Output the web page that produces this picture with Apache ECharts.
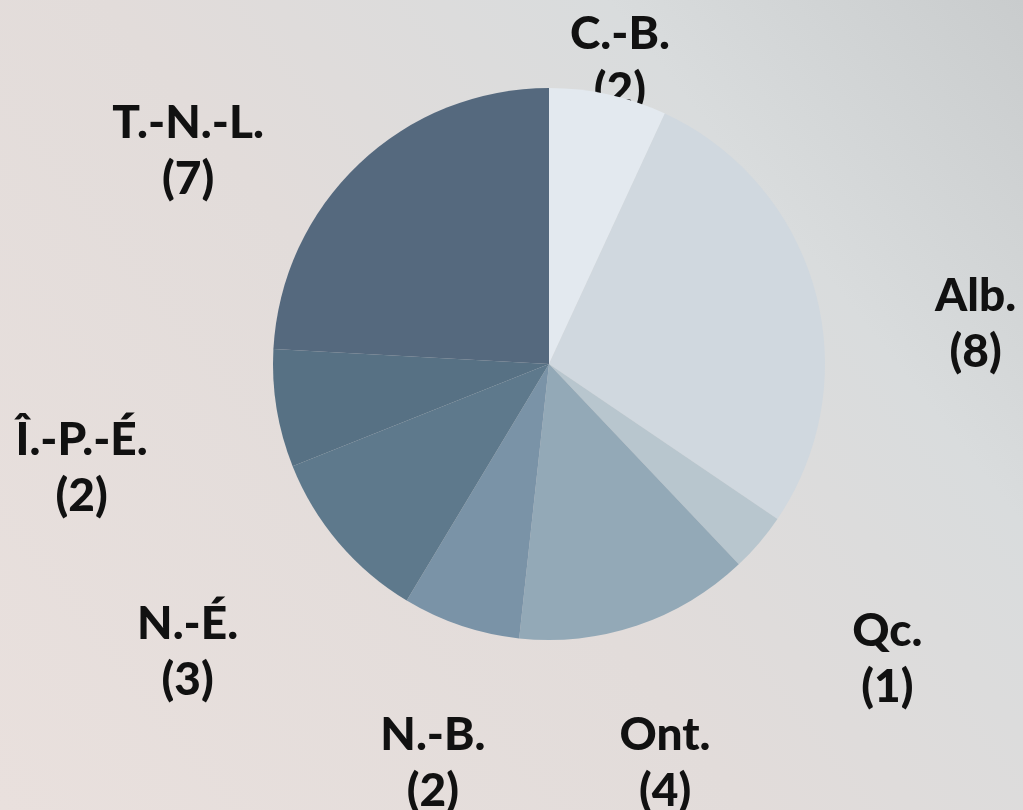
<!DOCTYPE html>
<html>
<head>
<meta charset="utf-8">
<script src="https://cdn.jsdelivr.net/npm/echarts@6/dist/echarts.min.js"></script>
<style>
html,body{margin:0;padding:0;width:1023px;height:810px;overflow:hidden;}
#chart{width:1023px;height:810px;}
</style>
</head>
<body>
<div id="chart"></div>
<script>
const categories = ['C.-B.', 'Alb.', 'Qc.', 'Ont.', 'N.-B.', 'N.-É.', 'Î.-P.-É.', 'T.-N.-L.'];
const values = [2, 8, 1, 4, 2, 3, 2, 7];
const colors = ['#e3e9ef', '#d0d8df', '#b8c6ce', '#93a9b7', '#7a93a7', '#5e798c', '#577184', '#55697e'];
const labelShift = [[-20,111],[19,73],[16,21],[-19,-2],[19,-2],[-39,14],[-50,36],[-70,94]];

const data = categories.map((c, i) => ({ name: c, value: values[i], itemStyle: { color: colors[i] } }));

const chart = echarts.init(document.getElementById('chart'), null, { renderer: 'canvas' });
chart.setOption({
  animation: false,
  backgroundColor: {
    type: 'linear', x: 0, y: 1, x2: 1, y2: 0,
    colorStops: [
      { offset: 0, color: '#e9e0dd' },
      { offset: 0.45, color: '#e2dcda' },
      { offset: 0.75, color: '#d9dcdd' },
      { offset: 1, color: '#c9cccd' }
    ]
  },
  series: [
    {
      type: 'pie',
      z: 1,
      center: [549, 364],
      radius: [380, 460],
      startAngle: 90,
      silent: true,
      avoidLabelOverlap: false,
      data: categories.map((c, i) => ({ name: c, value: values[i] })),
      itemStyle: { color: 'rgba(0,0,0,0)' },
      label: {
        show: true,
        position: 'inside',
        formatter: '{b}\n({c})',
        color: '#111111',
        fontFamily: 'Lato',
        fontWeight: 900,
        fontSize: 46,
        lineHeight: 56,
        align: 'center'
      },
      labelLine: { show: false },
      labelLayout: function (p) {
        const s = labelShift[p.dataIndex];
        return { dx: s[0], dy: s[1] };
      },
      emphasis: { disabled: true }
    },
    {
      type: 'pie',
      z: 5,
      center: [549, 364],
      radius: [0, 276],
      startAngle: 90,
      silent: true,
      data: data,
      label: { show: false },
      labelLine: { show: false },
      emphasis: { disabled: true }
    }
  ]
});
</script>
</body>
</html>
